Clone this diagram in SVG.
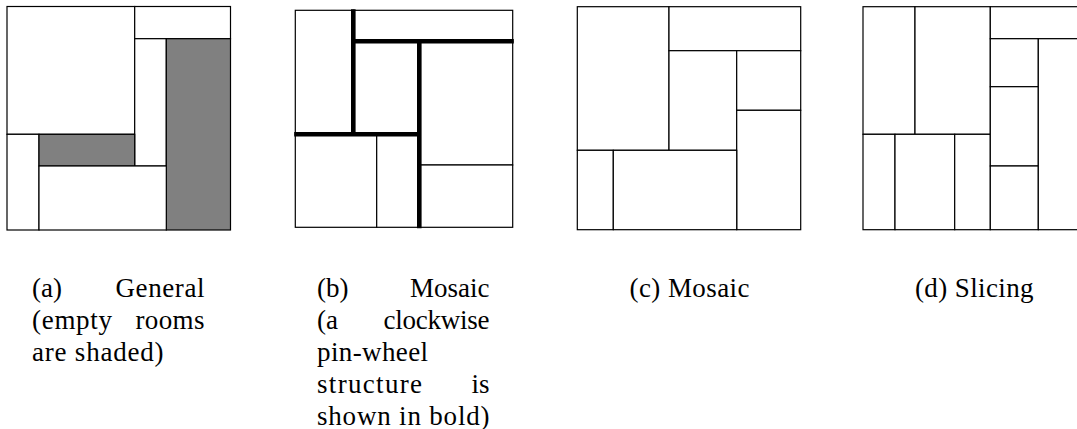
<svg xmlns="http://www.w3.org/2000/svg" width="1077" height="429" viewBox="0 0 1077 429">
<style>
.room{fill:#fff;stroke:#000;stroke-width:1.2}
.empty{fill:#808080;stroke:#000;stroke-width:1.2}
.bold{fill:none;stroke:#000;stroke-width:4.6;stroke-linecap:square}
.cap{font-family:"Liberation Serif","Times New Roman",serif;font-size:27px;fill:#000}
.end{text-anchor:end}
.mid{text-anchor:middle}
</style>
<rect width="1077" height="429" fill="#fff"/>
<g id="panel-a">
<rect class="room" x="7" y="6.5" width="127.7" height="127.8"/>
<rect class="room" x="134.7" y="6.5" width="95.8" height="32.2"/>
<rect class="room" x="134.7" y="38.7" width="31.6" height="127.3"/>
<rect class="empty" x="166.3" y="38.7" width="64.2" height="191.3"/>
<rect class="room" x="7" y="134.3" width="32" height="95.7"/>
<rect class="empty" x="39" y="134.3" width="95.7" height="31.7"/>
<rect class="room" x="39" y="166" width="127.3" height="64"/>
</g>
<g id="panel-b">
<rect class="room" x="295.3" y="10.3" width="58" height="124"/>
<rect class="room" x="353.3" y="10.3" width="159.4" height="31"/>
<rect class="room" x="353.3" y="41.3" width="66" height="93"/>
<rect class="room" x="419.3" y="41.3" width="93.4" height="123.7"/>
<rect class="room" x="419.3" y="165" width="93.4" height="62.3"/>
<rect class="room" x="295.3" y="134.3" width="81.4" height="93"/>
<rect class="room" x="376.7" y="134.3" width="42.6" height="93"/>
<g id="pinwheel">
<path class="bold" d="M353.3 11.5V134.3M353.3 41.3H511.5M419.3 41.3V226M296.5 134.3H419.3"/>
</g>
</g>
<g id="panel-c">
<rect class="room" x="577.3" y="6.7" width="91.7" height="143.6"/>
<rect class="room" x="669" y="6.7" width="131.7" height="44"/>
<rect class="room" x="669" y="50.7" width="67.7" height="99.6"/>
<rect class="room" x="736.7" y="50.7" width="64" height="59.6"/>
<rect class="room" x="736.7" y="110.3" width="64" height="119.4"/>
<rect class="room" x="577.3" y="150.3" width="36" height="79.4"/>
<rect class="room" x="613.3" y="150.3" width="123.4" height="79.4"/>
</g>
<g id="panel-d">
<rect class="room" x="863" y="6.7" width="52" height="127.6"/>
<rect class="room" x="915" y="6.7" width="75.3" height="127.6"/>
<rect class="room" x="863" y="134.3" width="32" height="95.4"/>
<rect class="room" x="895" y="134.3" width="59.7" height="95.4"/>
<rect class="room" x="954.7" y="134.3" width="35.6" height="95.4"/>
<rect class="room" x="990.3" y="6.7" width="95.7" height="32"/>
<rect class="room" x="990.3" y="38.7" width="48" height="48"/>
<rect class="room" x="990.3" y="86.7" width="48" height="79.3"/>
<rect class="room" x="990.3" y="166" width="48" height="63.7"/>
<rect class="room" x="1038.3" y="38.7" width="47.7" height="191"/>
</g>
<g id="captions">
<g id="caption-a">
<text class="cap" x="32" y="297">(a)</text>
<text class="cap end" x="204.5" y="297" textLength="89">General</text>
<text class="cap" x="32" y="329" textLength="80">(empty</text>
<text class="cap end" x="204.5" y="329" textLength="69">rooms</text>
<text class="cap" x="32" y="361" textLength="131.5">are shaded)</text>
</g>
<g id="caption-b">
<text class="cap" x="317" y="297">(b)</text>
<text class="cap end" x="489.5" y="297" textLength="79.5">Mosaic</text>
<text class="cap" x="317" y="329">(a</text>
<text class="cap end" x="489.5" y="329" textLength="106">clockwise</text>
<text class="cap" x="317" y="361" textLength="111">pin-wheel</text>
<text class="cap" x="317" y="393" textLength="105">structure</text>
<text class="cap end" x="489.5" y="393">is</text>
<text class="cap" x="317" y="424.5" textLength="172.5">shown in bold)</text>
</g>
<g id="caption-c">
<text class="cap" x="629.5" y="297" textLength="120">(c) Mosaic</text>
</g>
<g id="caption-d">
<text class="cap" x="915" y="297" textLength="118.5">(d) Slicing</text>
</g>
</g>
</svg>
